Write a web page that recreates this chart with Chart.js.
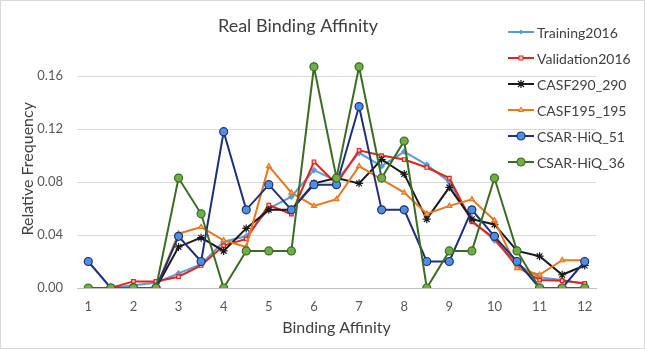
<!DOCTYPE html>
<html>
<head>
<meta charset="utf-8">
<script src="https://cdn.jsdelivr.net/npm/chart.js@4/dist/chart.umd.min.js"></script>
<style>
  html, body { margin: 0; padding: 0; background: #fff; }
  #wrap { position: relative; width: 645px; height: 349px; }
  #frame { position: absolute; left: 0; top: 0; width: 643px; height: 347px; border: 1px solid #d9d9d9; pointer-events: none; }
  #legend { position: absolute; left: 508px; top: 19px; font-family: Lato, "Open Sans", sans-serif; font-size: 14px; color: #404040; }
  .item { height: 26px; display: flex; align-items: center; }
  .item svg { margin-right: 3px; }
</style>
</head>
<body>
<div id="wrap">
  <canvas id="myChart" width="645" height="349"></canvas>
  <div id="legend"></div>
  <div id="frame"></div>
</div>
<script>
const labels = ['1','1.5','2','2.5','3','3.5','4','4.5','5','5.5','6','6.5','7','7.5','8','8.5','9','9.5','10','10.5','11','11.5','12'];
const training2016 = [0, 0, 0.002, 0.004, 0.011, 0.018, 0.035, 0.039, 0.060, 0.069, 0.089, 0.081, 0.102, 0.092, 0.103, 0.093, 0.080, 0.051, 0.036, 0.018, 0.008, 0.006, 0.003];
const validation2016 = [0, 0, 0.005, 0.005, 0.0085, 0.017, 0.032, 0.037, 0.0626, 0.0558, 0.0953, 0.0785, 0.104, 0.100, 0.097, 0.091, 0.083, 0.050, 0.0375, 0.016, 0.006, 0.0055, 0.0035];
const casf290 = [0, 0, 0, 0, 0.031, 0.038, 0.028, 0.045, 0.059, 0.059, 0.079, 0.083, 0.079, 0.097, 0.086, 0.052, 0.076, 0.052, 0.048, 0.028, 0.024, 0.010, 0.017];
const casf195 = [0, 0, 0, 0, 0.041, 0.046, 0.036, 0.031, 0.092, 0.072, 0.062, 0.067, 0.092, 0.082, 0.072, 0.056, 0.062, 0.067, 0.051, 0.015, 0.010, 0.021, 0.021];
const csarHiQ51 = [0.020, 0, 0, 0, 0.039, 0.020, 0.118, 0.059, 0.078, 0.059, 0.078, 0.078, 0.137, 0.059, 0.059, 0.020, 0.020, 0.059, 0.039, 0.020, 0, 0, 0.020];
const csarHiQ36 = [0, 0, 0, 0, 0.083, 0.056, 0, 0.028, 0.028, 0.028, 0.167, 0.083, 0.167, 0.083, 0.111, 0, 0.028, 0.028, 0.083, 0.028, 0, 0, 0];
const yTicks = [0, 0.04, 0.08, 0.12, 0.16];

const fontFamily = 'Lato, "Open Sans", sans-serif';

// name, data, line colour, marker style, marker fill, marker radius
const series = [
  ['Training2016', training2016, '#5b9bd5', 'rectRot', '#5b9bd5', 2.5],
  ['Validation2016', validation2016, '#e3241b', 'rect', '#f7c9c6', 2.5],
  ['CASF290_290', casf290, '#1a1a1a', 'star', '#1a1a1a', 4],
  ['CASF195_195', casf195, '#e8771e', 'triangle', '#f4b183', 2.8],
  ['CSAR-HiQ_51', csarHiQ51, '#1f2f7a', 'circle', '#4f8fdb', 4],
  ['CSAR-HiQ_36', csarHiQ36, '#3b6b24', 'circle', '#70ad47', 4]
];

const ctx = document.getElementById('myChart');

let chart = new Chart(ctx, {
  type: 'line',
  data: {
    labels: labels,
    datasets: series.map((s, i) => ({
      label: s[0],
      data: s[1],
      borderColor: s[2],
      borderWidth: 2,
      pointStyle: s[3],
      pointBackgroundColor: s[4],
      pointBorderColor: s[2],
      pointBorderWidth: 1.2,
      pointRadius: s[5],
      tension: 0,
      order: 6 - i
    }))
  },
  options: {
    responsive: false,
    animation: false,
    layout: { padding: { left: 0, right: 49, top: 0, bottom: 0 } },
    plugins: {
      legend: { display: false },
      tooltip: { enabled: false },
      title: {
        display: true,
        text: 'Real Binding Affinity',
        color: '#404040',
        font: { family: fontFamily, size: 18, weight: 'normal' },
        padding: { top: 15, bottom: 13 }
      }
    },
    scales: {
      x: {
        offset: true,
        grid: { display: false, drawTicks: false },
        border: { display: true, color: '#bfbfbf', width: 1 },
        ticks: {
          autoSkip: false,
          maxRotation: 0,
          padding: 11,
          color: '#595959',
          font: { family: fontFamily, size: 13 },
          callback: function (v, i) {
            const l = labels[i];
            return l.indexOf('.') === -1 ? l : '';
          }
        },
        title: {
          display: true,
          text: 'Binding Affinity',
          color: '#404040',
          font: { family: fontFamily, size: 16 },
          padding: { top: 4, bottom: 12 }
        },
        afterFit: function (scale) { scale.height = 61; }
      },
      y: {
        min: 0,
        max: 0.18,
        afterBuildTicks: function (scale) {
          scale.ticks = yTicks.map(v => ({ value: v }));
        },
        grid: { color: '#d9d9d9', drawTicks: false },
        border: { display: false },
        ticks: {
          padding: 14,
          color: '#595959',
          font: { family: fontFamily, size: 13 },
          callback: v => v.toFixed(2)
        },
        title: {
          display: true,
          text: 'Relative Frequency',
          color: '#404040',
          font: { family: fontFamily, size: 16 },
          padding: { top: 18, bottom: 4 }
        },
        afterFit: function (scale) { scale.width = 77; }
      }
    }
  }
});

// legend drawn as html so it can sit over the right edge of the plot
const legendBox = document.getElementById('legend');
series.forEach(s => {
  const item = document.createElement('div');
  item.className = 'item';
  let marker = '';
  const c = s[2], f = s[4];
  if (s[3] === 'circle') marker = `<circle cx="13" cy="6" r="4" fill="${f}" stroke="${c}" stroke-width="1.2"/>`;
  else if (s[3] === 'rectRot') marker = `<polygon points="13,3.5 15.5,6 13,8.5 10.5,6" fill="${f}"/>`;
  else if (s[3] === 'rect') marker = `<rect x="11" y="4" width="4" height="4" fill="${f}" stroke="${c}" stroke-width="1"/>`;
  else if (s[3] === 'triangle') marker = `<polygon points="13,3 15.5,7.5 10.5,7.5" fill="${f}" stroke="${c}" stroke-width="1"/>`;
  else marker = `<path d="M9,6 H17 M13,2 V10 M10,3 L16,9 M16,3 L10,9" stroke="${c}" stroke-width="1.2"/>`;
  item.innerHTML = `<svg width="26" height="12"><line x1="0" y1="6" x2="26" y2="6" stroke="${c}" stroke-width="2"/>${marker}</svg><span>${s[0]}</span>`;
  legendBox.appendChild(item);
});
</script>
</body>
</html>
